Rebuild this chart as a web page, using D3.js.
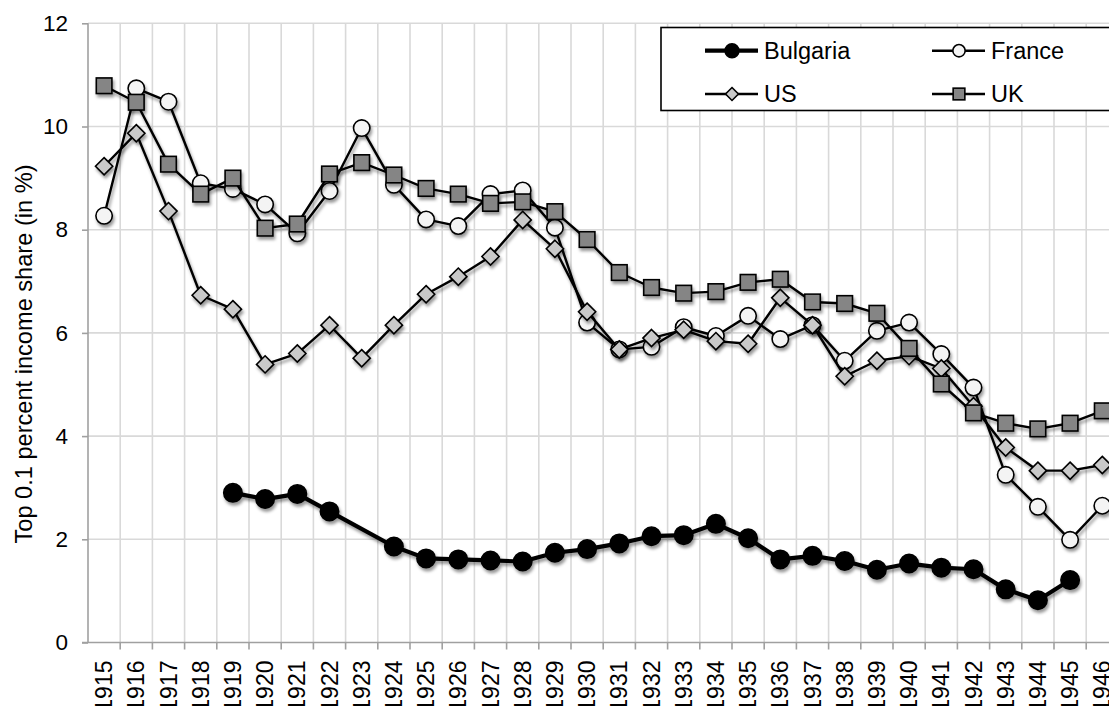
<!DOCTYPE html>
<html>
<head>
<meta charset="utf-8">
<script src="https://cdn.jsdelivr.net/npm/d3@7"></script>
<style>
  html, body { margin: 0; padding: 0; background: #fff; }
  svg { display: block; }
  text { font-family: "Liberation Sans", Arial, Helvetica, sans-serif; fill: #000; }
</style>
</head>
<body>
<svg id="chart" width="1109" height="706"></svg>
<script>
// Years on the category axis
const years = [1915, 1916, 1917, 1918, 1919, 1920, 1921, 1922, 1923, 1924,
  1925, 1926, 1927, 1928, 1929, 1930, 1931, 1932, 1933, 1934, 1935, 1936,
  1937, 1938, 1939, 1940, 1941, 1942, 1943, 1944, 1945, 1946];

// Top 0.1 percent income share (in %); null = no observation
const bulgaria = [null, null, null, null, 2.90, 2.78, 2.88, 2.54, null, 1.86,
  1.63, 1.61, 1.59, 1.57, 1.74, 1.81, 1.92, 2.06, 2.08, 2.30, 2.02, 1.61,
  1.68, 1.58, 1.41, 1.53, 1.45, 1.42, 1.03, 0.82, 1.21, null];
const france = [8.27, 10.74, 10.48, 8.90, 8.79, 8.49, 7.93, 8.75, 9.97, 8.87,
  8.20, 8.07, 8.69, 8.76, 8.04, 6.20, 5.68, 5.73, 6.11, 5.94, 6.33, 5.88,
  6.15, 5.46, 6.04, 6.20, 5.59, 4.94, 3.25, 2.63, 1.99, 2.65];
const us = [9.23, 9.87, 8.36, 6.73, 6.46, 5.39, 5.60, 6.15, 5.51, 6.15,
  6.75, 7.09, 7.48, 8.19, 7.63, 6.41, 5.68, 5.90, 6.06, 5.84, 5.79, 6.68,
  6.15, 5.16, 5.46, 5.55, 5.31, 4.58, 3.78, 3.33, 3.33, 3.44];
const uk = [10.79, 10.47, 9.27, 8.69, 9.00, 8.03, 8.11, 9.08, 9.30, 9.06,
  8.80, 8.69, 8.51, 8.54, 8.35, 7.81, 7.17, 6.88, 6.77, 6.80, 6.98, 7.04,
  6.60, 6.57, 6.38, 5.70, 5.01, 4.45, 4.25, 4.14, 4.25, 4.49];

const yTicks = [0, 2, 4, 6, 8, 10, 12];
const yTitle = "Top 0.1 percent income share (in %)";

const seriesList = [
  { name: "Bulgaria", values: bulgaria, marker: "circle", fill: "#000000", size: 9.2, lineWidth: 4.2 },
  { name: "France", values: france, marker: "circle", fill: "#f4f4f4", size: 8.2, lineWidth: 2.4 },
  { name: "US", values: us, marker: "diamond", fill: "#c9c9c9", size: 8.6, lineWidth: 2.4 },
  { name: "UK", values: uk, marker: "square", fill: "#858585", size: 7.8, lineWidth: 2.4 }
];

const svg = d3.select("#chart");
const plot = { left: 88, top: 23.3, bottom: 642.5, step: 32.2 };

const x = d3.scaleBand()
  .domain(years)
  .range([plot.left, plot.left + years.length * plot.step])
  .padding(0);
const y = d3.scaleLinear().domain([0, 12]).range([plot.bottom, plot.top]);
const cx = yr => x(yr) + x.bandwidth() / 2;

// Drop shadow used under the series
const defs = svg.append("defs");
const f = defs.append("filter").attr("id", "shadow")
  .attr("x", "-20%").attr("y", "-20%").attr("width", "140%").attr("height", "140%");
f.append("feDropShadow").attr("dx", 1.5).attr("dy", 3).attr("stdDeviation", 1.8)
  .attr("flood-color", "#000").attr("flood-opacity", 0.4);

// Gridlines
const grid = svg.append("g").attr("stroke", "#d9d9d9").attr("stroke-width", 1.6);
grid.selectAll("line.h").data(yTicks.slice(1)).join("line")
  .attr("x1", plot.left).attr("x2", x.range()[1])
  .attr("y1", d => y(d)).attr("y2", d => y(d));
grid.selectAll("line.v").data(years).join("line")
  .attr("x1", d => x(d) + x.bandwidth()).attr("x2", d => x(d) + x.bandwidth())
  .attr("y1", plot.top).attr("y2", plot.bottom);

// Y axis
const yAxis = svg.append("g").attr("transform", `translate(${plot.left},0)`)
  .call(d3.axisLeft(y).tickValues(yTicks).tickSize(6).tickPadding(14));
yAxis.select(".domain").attr("stroke", "#a0a0a0").attr("stroke-width", 1.6)
  .attr("d", `M0,${plot.top}V${plot.bottom}`);
yAxis.selectAll(".tick line").attr("stroke", "#a0a0a0").attr("stroke-width", 1.6);
yAxis.selectAll(".tick text").attr("font-size", 22.5)
  .attr("font-family", "Liberation Sans, Arial, sans-serif").attr("fill", "#000");

// X axis
const xAxis = svg.append("g").attr("transform", `translate(0,${plot.bottom})`)
  .call(d3.axisBottom(x).tickSize(0).tickFormat(d3.format("d")));
xAxis.select(".domain").attr("stroke", "#a0a0a0").attr("stroke-width", 1.6)
  .attr("d", `M${plot.left - 6},0H${x.range()[1]}`);
xAxis.selectAll(".tick text")
  .attr("font-size", 23)
  .attr("font-family", "Liberation Sans, Arial, sans-serif").attr("fill", "#000")
  .attr("text-anchor", "end")
  .attr("transform", "translate(0,18) rotate(-90)")
  .attr("x", 0).attr("y", 0).attr("dy", "0.35em");
xAxis.append("g").attr("stroke", "#a0a0a0").attr("stroke-width", 1.6)
  .selectAll("line").data(years).join("line")
  .attr("x1", d => x(d) + x.bandwidth()).attr("x2", d => x(d) + x.bandwidth())
  .attr("y1", 0).attr("y2", 7);

// Y axis title
svg.append("text")
  .attr("transform", "translate(32,354) rotate(-90)")
  .attr("text-anchor", "middle")
  .attr("font-size", 23.6)
  .text(yTitle);

// Marker drawing
function drawMarker(sel, s) {
  if (s.marker === "circle") {
    sel.append("circle").attr("r", s.size);
  } else if (s.marker === "square") {
    sel.append("rect").attr("x", -s.size).attr("y", -s.size)
      .attr("width", 2 * s.size).attr("height", 2 * s.size);
  } else {
    const r = s.size;
    sel.append("path").attr("d", `M0,${-r}L${r},0L0,${r}L${-r},0Z`);
  }
  sel.selectAll("circle,rect,path")
    .attr("fill", s.fill).attr("stroke", "#000").attr("stroke-width", 1.6);
}

const line = d3.line().x(d => cx(d.year)).y(d => y(d.value));

seriesList.forEach(s => {
  const pts = years.map((yr, i) => ({ year: yr, value: s.values[i] }))
    .filter(d => d.value !== null);
  const g = svg.append("g").attr("filter", "url(#shadow)");
  g.append("path").datum(pts)
    .attr("d", line)
    .attr("fill", "none").attr("stroke", "#000")
    .attr("stroke-width", s.lineWidth).attr("stroke-linejoin", "round");
  g.selectAll("g.pt").data(pts).join("g")
    .attr("transform", d => `translate(${cx(d.year)},${y(d.value)})`)
    .each(function () { drawMarker(d3.select(this), s); });
});

// Legend
const legend = svg.append("g");
legend.append("rect")
  .attr("x", 661).attr("y", 27.5).attr("width", 470).attr("height", 83)
  .attr("fill", "#fff").attr("stroke", "#000").attr("stroke-width", 1.6);
const legendPos = [
  { lx: 705, ty: 50.7 }, { lx: 932, ty: 50.7 },
  { lx: 705, ty: 94 }, { lx: 932, ty: 94 }
];
seriesList.forEach((s, i) => {
  const p = legendPos[i];
  const item = legend.append("g");
  item.append("line").attr("x1", p.lx).attr("x2", p.lx + 53)
    .attr("y1", p.ty).attr("y2", p.ty)
    .attr("stroke", "#000").attr("stroke-width", s.lineWidth);
  const m = item.append("g").attr("transform", `translate(${p.lx + 27},${p.ty})`);
  drawMarker(m, Object.assign({}, s, { size: s.size * 0.75 }));
  item.append("text").attr("x", p.lx + 59).attr("y", p.ty).attr("dy", "0.35em")
    .attr("font-size", 23.5).text(s.name);
});
</script>
</body>
</html>
